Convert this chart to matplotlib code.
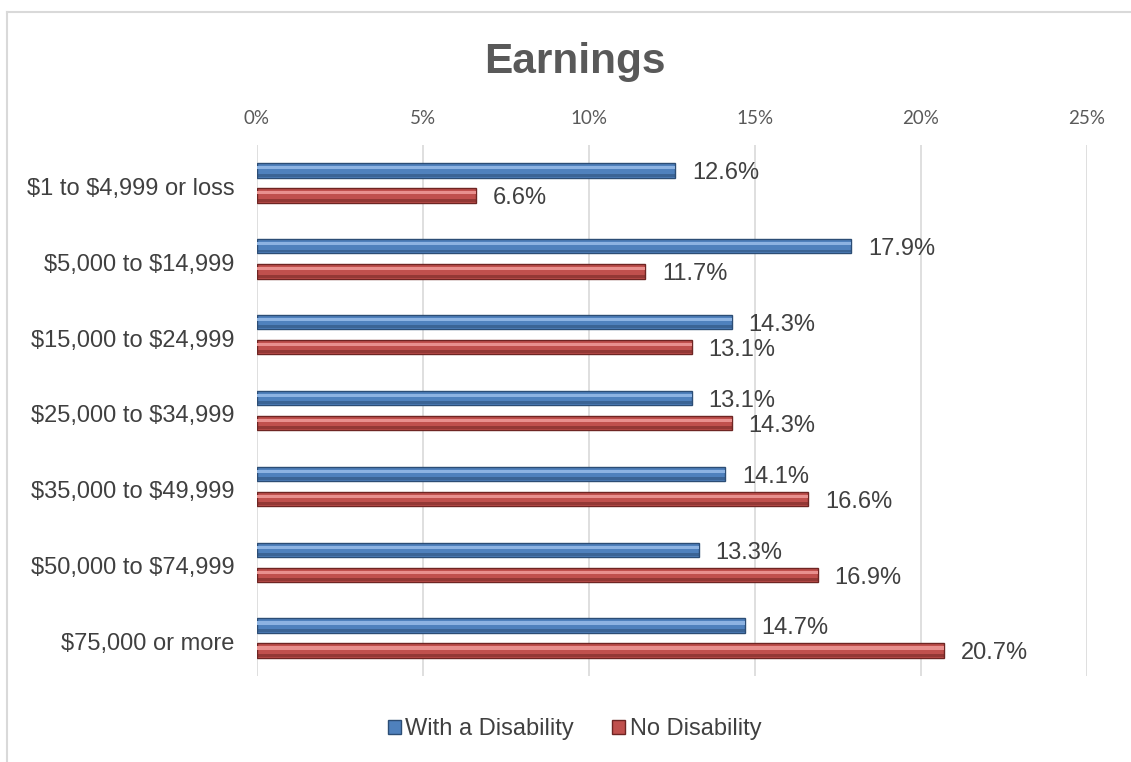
import numpy as np
import matplotlib.pyplot as plt
import matplotlib.transforms as mtransforms
from matplotlib.lines import Line2D
from matplotlib.patches import Patch

categories = ['$1 to $4,999 or loss', '$5,000 to $14,999', '$15,000 to $24,999',
              '$25,000 to $34,999', '$35,000 to $49,999', '$50,000 to $74,999',
              '$75,000 or more']
with_disability = [12.6, 17.9, 14.3, 13.1, 14.1, 13.3, 14.7]
no_disability = [6.6, 11.7, 13.1, 14.3, 16.6, 16.9, 20.7]
xticks = [0, 5, 10, 15, 20, 25]

plt.rcParams['font.family'] = ['Liberation Sans', 'DejaVu Sans']
plt.rcParams['text.parse_math'] = False
TXT = '#404040'

fig = plt.figure(figsize=(11.31, 7.62), dpi=100)
ax = fig.add_axes([0.2272, 0.1128, 0.7339, 0.6969])

y = np.arange(len(categories))
h = 0.19
off = 0.165

series = [
    (with_disability, -off, '#4f81bd', '#2c4d75', '#8db3e2', 'With a Disability'),
    (no_disability, off, '#c0504d', '#6e2523', '#e8908e', 'No Disability'),
]
for vals, dy, face, edge, light, name in series:
    ax.barh(y + dy, vals, height=h, color=face, edgecolor=edge, linewidth=1.0, zorder=3)
    # bevel look: light strip on the upper half, darker strip at the bottom
    ax.barh(y + dy - h * 0.18, vals, height=h * 0.22, color=light, linewidth=0, zorder=4)
    ax.barh(y + dy + h * 0.33, vals, height=h * 0.2, color=edge, alpha=0.55, linewidth=0, zorder=4)
    for yi, v in zip(y + dy, vals):
        ax.annotate(f'{v:.1f}%', (v, yi), xytext=(12, -2), textcoords='offset points',
                    va='center', ha='left', fontsize=17, color=TXT)

ax.set_xlim(0, 25)
ax.set_ylim(len(categories) - 0.5, -0.5)
ax.set_xticks(xticks)
ax.set_xticklabels([f'{t}%' for t in xticks], fontsize=13.5, color='#595959', family=['Lato'])
ax.xaxis.tick_top()
ax.set_yticks(y)
ax.set_yticklabels(categories, fontsize=17, color=TXT)
ax.tick_params(length=0)
ax.tick_params(axis='y', pad=16)
ax.tick_params(axis='x', pad=13)
ax.grid(axis='x', color='#d9d9d9', linewidth=1.2, zorder=0)
for s in ax.spines.values():
    s.set_visible(False)

shift = mtransforms.ScaledTranslation(0, -2.5 / 72, fig.dpi_scale_trans)
for lbl in ax.get_yticklabels():
    lbl.set_transform(lbl.get_transform() + shift)

fig.text(0.508, 1 - 73 / 762, 'Earnings', ha='center', va='baseline', fontsize=30.5,
         fontweight='bold', color='#595959')

handles = [Patch(facecolor='#4f81bd', edgecolor='#2c4d75'),
           Patch(facecolor='#c0504d', edgecolor='#6e2523')]
fig.legend(handles, ['With a Disability', 'No Disability'], loc='center',
           bbox_to_anchor=(0.508, 1 - 729 / 762), ncol=2, frameon=False, fontsize=17,
           handlelength=0.55, handleheight=0.55, handletextpad=0.2, columnspacing=1.6,
           labelcolor=TXT)

# outer chart border (only left and top edges fall inside the image)
fig.add_artist(Line2D([7 / 1131, 7 / 1131], [0, 1 - 12 / 762], transform=fig.transFigure,
                      color='#d9d9d9', linewidth=1.5))
fig.add_artist(Line2D([7 / 1131, 1], [1 - 12 / 762, 1 - 12 / 762], transform=fig.transFigure,
                      color='#d9d9d9', linewidth=1.5))

fig.savefig('out.png', dpi=100, facecolor='white')
